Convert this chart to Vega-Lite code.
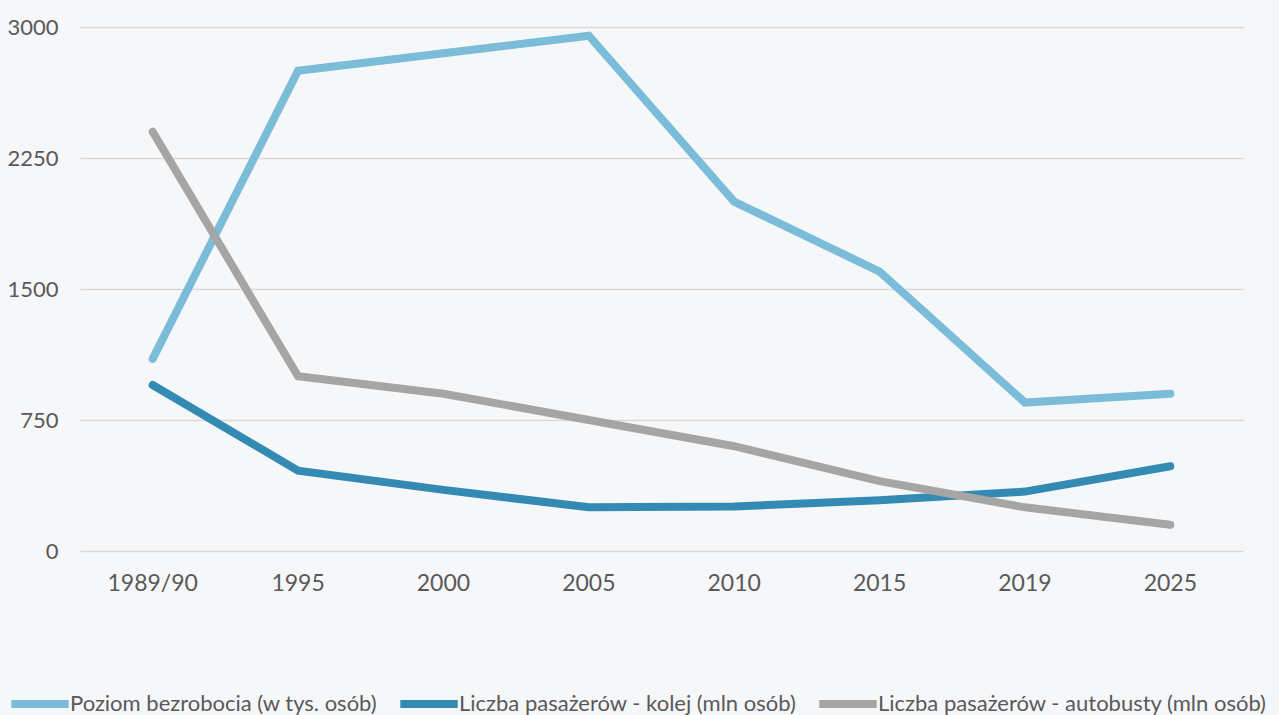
{
  "$schema": "https://vega.github.io/schema/vega-lite/v6.json",
  "width": 1163,
  "height": 524,
  "autosize": {"type": "none"},
  "padding": {"left": 80, "top": 27, "right": 36, "bottom": 164},
  "background": "#f6f7f9",
  "config": {
    "view": {"stroke": null},
    "font": "Lato",
    "axis": {"labelFont": "Lato", "labelColor": "#595959"}
  },
  "data": {
    "values": [
      {"okres": "1989/90", "seria": "Poziom bezrobocia (w tys. osób)", "wartosc": 1100},
      {"okres": "1995", "seria": "Poziom bezrobocia (w tys. osób)", "wartosc": 2750},
      {"okres": "2000", "seria": "Poziom bezrobocia (w tys. osób)", "wartosc": 2850},
      {"okres": "2005", "seria": "Poziom bezrobocia (w tys. osób)", "wartosc": 2950},
      {"okres": "2010", "seria": "Poziom bezrobocia (w tys. osób)", "wartosc": 2000},
      {"okres": "2015", "seria": "Poziom bezrobocia (w tys. osób)", "wartosc": 1600},
      {"okres": "2019", "seria": "Poziom bezrobocia (w tys. osób)", "wartosc": 850},
      {"okres": "2025", "seria": "Poziom bezrobocia (w tys. osób)", "wartosc": 900},
      {"okres": "1989/90", "seria": "Liczba pasażerów - kolej (mln osób)", "wartosc": 950},
      {"okres": "1995", "seria": "Liczba pasażerów - kolej (mln osób)", "wartosc": 460},
      {"okres": "2000", "seria": "Liczba pasażerów - kolej (mln osób)", "wartosc": 350},
      {"okres": "2005", "seria": "Liczba pasażerów - kolej (mln osób)", "wartosc": 250},
      {"okres": "2010", "seria": "Liczba pasażerów - kolej (mln osób)", "wartosc": 255},
      {"okres": "2015", "seria": "Liczba pasażerów - kolej (mln osób)", "wartosc": 290},
      {"okres": "2019", "seria": "Liczba pasażerów - kolej (mln osób)", "wartosc": 340},
      {"okres": "2025", "seria": "Liczba pasażerów - kolej (mln osób)", "wartosc": 485},
      {"okres": "1989/90", "seria": "Liczba pasażerów - autobusty (mln osób)", "wartosc": 2400},
      {"okres": "1995", "seria": "Liczba pasażerów - autobusty (mln osób)", "wartosc": 1000},
      {"okres": "2000", "seria": "Liczba pasażerów - autobusty (mln osób)", "wartosc": 900},
      {"okres": "2005", "seria": "Liczba pasażerów - autobusty (mln osób)", "wartosc": 750},
      {"okres": "2010", "seria": "Liczba pasażerów - autobusty (mln osób)", "wartosc": 600},
      {"okres": "2015", "seria": "Liczba pasażerów - autobusty (mln osób)", "wartosc": 400},
      {"okres": "2019", "seria": "Liczba pasażerów - autobusty (mln osób)", "wartosc": 250},
      {"okres": "2025", "seria": "Liczba pasażerów - autobusty (mln osób)", "wartosc": 150}
    ]
  },
  "mark": {"type": "line", "strokeWidth": 8, "strokeCap": "round", "strokeJoin": "miter"},
  "encoding": {
    "x": {
      "field": "okres",
      "type": "nominal",
      "sort": null,
      "scale": {"type": "band", "paddingInner": 0, "paddingOuter": 0},
      "axis": {
        "title": null,
        "labelAngle": 0,
        "labelFontSize": 23,
        "labelPadding": 21,
        "domain": false,
        "ticks": false,
        "grid": false
      }
    },
    "y": {
      "field": "wartosc",
      "type": "quantitative",
      "scale": {"domain": [0, 3000], "nice": false},
      "axis": {
        "title": null,
        "values": [0, 750, 1500, 2250, 3000],
        "format": "d",
        "labelFontSize": 22,
        "labelPadding": 22,
        "domain": false,
        "ticks": false,
        "grid": true,
        "gridColor": "#d9d9d9",
        "gridWidth": 1.5
      }
    },
    "color": {
      "field": "seria",
      "type": "nominal",
      "sort": null,
      "scale": {
        "domain": [
          "Poziom bezrobocia (w tys. osób)",
          "Liczba pasażerów - kolej (mln osób)",
          "Liczba pasażerów - autobusty (mln osób)"
        ],
        "range": ["#7bbdd8", "#338bb3", "#a5a5a5"]
      },
      "legend": {
        "title": null,
        "orient": "none",
        "direction": "horizontal",
        "legendX": -73,
        "legendY": 644,
        "symbolType": "stroke",
        "symbolSize": 3300,
        "symbolStrokeWidth": 8,
        "labelFontSize": 22,
        "labelColor": "#595959",
        "labelOffset": -3,
        "columnPadding": 6,
        "labelLimit": 500
      }
    }
  }
}
